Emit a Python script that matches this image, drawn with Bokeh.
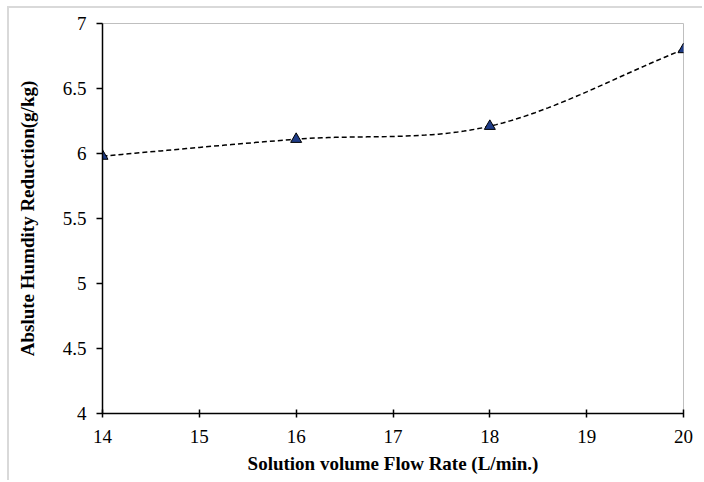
from bokeh.plotting import figure
from bokeh.embed import file_html
from bokeh.resources import INLINE
from bokeh.models import FixedTicker, Range1d
import numpy as np

flow_rate = [14, 16, 18, 20]
humidity_reduction = [5.98, 6.11, 6.21, 6.80]

x_ticks = [14, 15, 16, 17, 18, 19, 20]
y_ticks = [4, 4.5, 5, 5.5, 6, 6.5, 7]

p = figure(width=695, height=474, output_backend="svg", toolbar_location=None,
           x_range=Range1d(14, 20), y_range=Range1d(4, 7))
p.margin = (6, 0, 0, 7)
p.styles = {"border-left": "2px solid #D9D9D9", "border-top": "2px solid #D9D9D9"}
p.min_border_left = 93
p.min_border_right = 21
p.min_border_top = 15
p.min_border_bottom = 69
p.background_fill_color = "white"
p.border_fill_color = "white"
p.outline_line_color = "#BFBFBF"
p.outline_line_width = 1
p.xgrid.visible = False
p.ygrid.visible = False


def catmull(xs, ys, n=30):
    px = [2*xs[0]-xs[1]] + list(xs) + [2*xs[-1]-xs[-2]]
    py = [2*ys[0]-ys[1]] + list(ys) + [2*ys[-1]-ys[-2]]
    ox, oy = [], []
    for i in range(1, len(px)-2):
        for t in np.linspace(0, 1, n, endpoint=False):
            t2, t3 = t*t, t*t*t
            def f(p0, p1, p2, p3):
                return 0.5*((2*p1) + (-p0+p2)*t + (2*p0-5*p1+4*p2-p3)*t2 + (-p0+3*p1-3*p2+p3)*t3)
            ox.append(f(px[i-1], px[i], px[i+1], px[i+2]))
            oy.append(f(py[i-1], py[i], py[i+1], py[i+2]))
    ox.append(xs[-1]); oy.append(ys[-1])
    return ox, oy

sx, sy = catmull(flow_rate, humidity_reduction)
p.line(sx, sy, line_color="black", line_width=1.5, line_dash="5 3")
p.scatter(flow_rate, humidity_reduction, marker="triangle", size=11,
          fill_color="#1F3C88", line_color="black", line_width=1)

for ax in (p.xaxis[0], p.yaxis[0]):
    ax.axis_line_color = "black"
    ax.axis_line_width = 1.5
    ax.major_tick_line_color = "black"
    ax.major_tick_line_width = 1.5
    ax.minor_tick_line_color = None
    ax.major_label_text_font = "Liberation Serif"
    ax.major_label_text_font_size = "19px"
    ax.major_label_text_color = "black"
    ax.axis_label_text_font = "Liberation Serif"
    ax.axis_label_text_font_style = "bold"
    ax.axis_label_text_font_size = "19px"
    ax.axis_label_text_color = "black"

p.xaxis.ticker = FixedTicker(ticks=x_ticks)
p.yaxis.ticker = FixedTicker(ticks=y_ticks)
p.xaxis.major_tick_in = 4
p.xaxis.major_tick_out = 4
p.yaxis.major_tick_in = 0
p.yaxis.major_tick_out = 6
p.xaxis.major_label_standoff = 12
p.yaxis.major_label_standoff = 10
p.xaxis.major_label_overrides = {t: str(t) for t in x_ticks}
p.yaxis.major_label_overrides = {4: "4", 4.5: "4.5", 5: "5", 5.5: "5.5", 6: "6", 6.5: "6.5", 7: "7"}
p.xaxis.axis_label = "Solution volume Flow Rate (L/min.)"
p.yaxis.axis_label = "Abslute Humdity Reduction(g/kg)"
p.xaxis.axis_label_standoff = 7
p.yaxis.axis_label_standoff = 22

open("out.html", "w").write(file_html(p, INLINE))
